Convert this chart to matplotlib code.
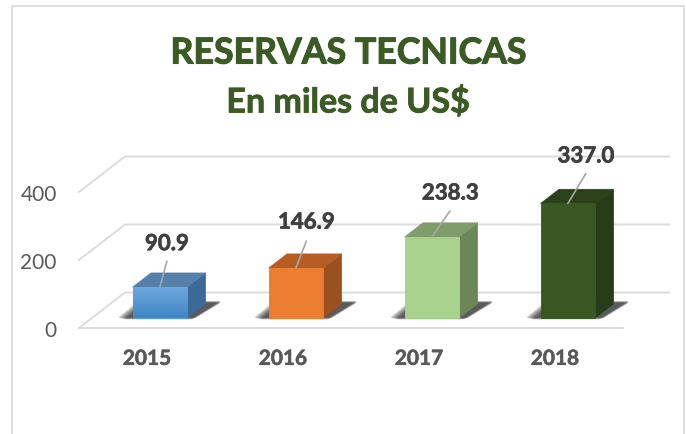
import numpy as np
import matplotlib
matplotlib.use("Agg")
import matplotlib.pyplot as plt
import matplotlib.patheffects as pe
from matplotlib.patches import Polygon
from matplotlib.lines import Line2D

# ---- data ----
years = ["2015", "2016", "2017", "2018"]
values = [90.9, 146.9, 238.3, 337.0]
value_labels = ["90.9", "146.9", "238.3", "337.0"]
y_ticks = [0, 200, 400]

# ---- style ----
W, H = 687, 435
front_colors = ["#5b9fe0", "#ed7d31", "#a9d18e", "#385723"]
top_colors = ["#5480aa", "#b55d22", "#7f9d6b", "#2a411a"]
side_colors = ["#3c6a98", "#9a501f", "#6b8759", "#263d17"]
label_offsets = [(7, 43.5), (10.5, 46), (18.5, 44), (18, 47.5)]
leader_offsets = [(7, 26), (10.5, 27), (18, 26), (18, 30)]
grid_c = "#dcdcdc"
title_c = "#3b5b25"


def heavy(w, c):
    return [pe.withStroke(linewidth=w, foreground=c)]


plt.rcParams["font.family"] = ["Lato", "DejaVu Sans"]
fig = plt.figure(figsize=(W / 100, H / 100), dpi=100, facecolor="white")
ax = fig.add_axes([79 / W, 1 - 329 / H, (623 - 79) / W, 136 / H])
ax.set_xlim(0, 4)
ax.set_ylim(0, 400)
ax.patch.set_visible(False)
for s in ax.spines.values():
    s.set_visible(False)

X_PER_PX = 4 / (623 - 79)
V_PER_PX = 400 / 136
DEPTH_X, DEPTH_Y = 46, 35.5


def pr(x, v, d):
    """Project category x, value v and depth d (0 front, 1 back) to data units."""
    return (x + d * DEPTH_X * X_PER_PX, v + d * DEPTH_Y * V_PER_PX)


# grid
for t in y_ticks:
    pts = [pr(0, t, 0), pr(0, t, 1), pr(4, t, 1)]
    ax.plot(*zip(*pts), color=grid_c, lw=1.4, clip_on=False, zorder=1)
ax.plot([0, 4], [0, 0], color=grid_c, lw=1.4, clip_on=False, zorder=1)

half = 27.3 * X_PER_PX
d0, d1 = 0.28, 0.68

for i, v in enumerate(values):
    c = i + 0.5
    L, R = c - half, c + half
    # soft floor shadow
    n = 10
    for k in range(n):
        g = k / (n - 1)
        gl = (1 - g) * 10 * X_PER_PX
        gr = (1 - g) * 3 * X_PER_PX
        dd = (1 - g) * 0.05
        poly = [pr(L - 0.2 * half - gl, 0, d0 - 0.04 + dd),
                pr(R + 0.2 * half + gr, 0, d0 - 0.04 + dd),
                pr(R + 0.4 * half + gr, 0, d1 + 0.08 - dd),
                pr(L - 0.25 * half - gl, 0, d1 + 0.08 - dd)]
        ax.add_patch(Polygon(poly, closed=True, fc="#222222", ec="none",
                             alpha=0.12, zorder=2, clip_on=False))
    # side, top and front faces
    ax.add_patch(Polygon([pr(R, 0, d0), pr(R, 0, d1), pr(R, v, d1), pr(R, v, d0)],
                         closed=True, fc=side_colors[i], ec=side_colors[i], lw=0.5,
                         zorder=3, clip_on=False))
    ax.add_patch(Polygon([pr(L, v, d0), pr(R, v, d0), pr(R, v, d1), pr(L, v, d1)],
                         closed=True, fc=top_colors[i], ec=top_colors[i], lw=0.5,
                         zorder=3, clip_on=False))
    front = Polygon([pr(L, 0, d0), pr(R, 0, d0), pr(R, v, d0), pr(L, v, d0)],
                    closed=True, fc=front_colors[i], ec=front_colors[i], lw=0.6,
                    zorder=4, clip_on=False)
    ax.add_patch(front)
    if i == 0:  # the first bar carries a vertical gradient
        grad = np.linspace(0, 1, 64).reshape(-1, 1)
        cmap = matplotlib.colors.LinearSegmentedColormap.from_list("b", ["#6fa8dc", "#3f86c8"])
        x0, y0 = pr(L, 0, d0)
        x1, y1 = pr(R, v, d0)
        ax.imshow(grad, cmap=cmap, extent=[x0, x1, y0, y1], origin="upper",
                  aspect="auto", zorder=5, clip_on=False)
    # labels and leaders
    top = pr(c, v, d0)
    lx, ly = leader_offsets[i]
    ax.annotate("", xy=top, xytext=(lx, ly), xycoords="data", textcoords="offset pixels",
                arrowprops=dict(arrowstyle="-", color="#a6a6a6", lw=1.2, shrinkA=0, shrinkB=0),
                zorder=6)
    tx, ty = label_offsets[i]
    ax.annotate(value_labels[i], xy=top, xytext=(tx, ty), xycoords="data",
                textcoords="offset pixels", ha="center", va="center",
                fontsize=16, fontweight="bold", color="#404040", zorder=7,
                path_effects=heavy(0.5, "#404040"))

ax.set_xlim(0, 4)
ax.set_ylim(0, 400)

ax.set_yticks(y_ticks)
ax.set_yticklabels([str(t) for t in y_ticks], fontsize=15, color="#595959")
ax.set_xticks([i + 0.5 for i in range(len(years))])
ax.set_xticklabels(years, fontsize=15, fontweight="bold", color="#595959",
                   path_effects=heavy(0.4, "#595959"))
ax.tick_params(axis="y", length=0, pad=16)
ax.tick_params(axis="x", length=0, pad=15)

# titles
fig.text(348 / W, 1 - 54 / H, "RESERVAS TECNICAS", ha="center", va="center",
         fontsize=25.7, fontweight="bold", color=title_c, path_effects=heavy(0.8, title_c))
fig.text(348 / W, 1 - 103 / H, "En miles de US$", ha="center", va="center",
         fontsize=24.5, fontweight="bold", color=title_c, path_effects=heavy(0.6, title_c))

# chart frame, open at the bottom
fx = [12 / W, 12 / W, 684 / W, 684 / W]
fy = [0, 1 - 6.5 / H, 1 - 6.5 / H, 0]
fig.add_artist(Line2D(fx, fy, color="#dedede", lw=1.4, transform=fig.transFigure))

fig.savefig("out.png", dpi=100)
